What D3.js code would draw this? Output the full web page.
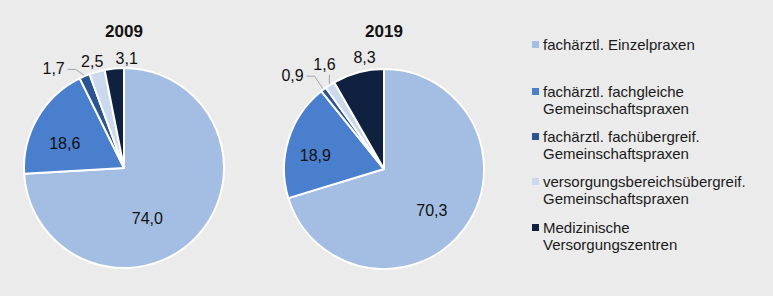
<!DOCTYPE html>
<html lang="de">
<head>
<meta charset="UTF-8">
<title>Praxisformen 2009 / 2019</title>
<script src="https://cdnjs.cloudflare.com/ajax/libs/d3/7.8.5/d3.min.js"></script>
<style>
  html, body { margin: 0; padding: 0; background: #ebebeb; }
  svg { display: block; font-family: "Liberation Sans", Arial, sans-serif; }
</style>
</head>
<body>
<div id="wrapper"></div>
<script>
// data
const categories = [
  ["fachärztl. Einzelpraxen"],
  ["fachärztl. fachgleiche", "Gemeinschaftspraxen"],
  ["fachärztl. fachübergreif.", "Gemeinschaftspraxen"],
  ["versorgungsbereichsübergreif.", "Gemeinschaftspraxen"],
  ["Medizinische", "Versorgungszentren"]
]
const years = ["2009", "2019"]
const values2009 = [74.0, 18.6, 1.7, 2.5, 3.1]
const values2019 = [70.3, 18.9, 0.9, 1.6, 8.3]

const colors = ["#a3bee2", "#4a7fce", "#2b5591", "#cad9ec", "#10213f"]

// label placement per slice: angle shift (deg), radius (px), leader line or not
const labelLayout = {
  "2009": [
    { da: 22, r: 56 }, { da: -8, r: 64 },
    { da: -12, r: 122, leader: true }, { da: -1, r: 111 }, { da: 7, r: 110 }
  ],
  "2019": [
    { da: 4, r: 63 }, { da: -6, r: 70 },
    { da: -7, r: 131, leader: true }, { da: 3, r: 120, leader: true }, { da: 5, r: 113 }
  ]
}

const dimensions = { width: 773, height: 296 }
const radius = 100
const centers = [{ x: 124, y: 168 }, { x: 384, y: 169 }]

const svg = d3.select('#wrapper')
  .append('svg')
    .attr('width', dimensions.width)
    .attr('height', dimensions.height)

svg.append('rect')
  .attr('width', dimensions.width)
  .attr('height', dimensions.height)
  .attr('fill', '#ebebeb')

const pie = d3.pie().sort(null).value(d => d)
const arc = d3.arc().innerRadius(0).outerRadius(radius)
const fmt = v => d3.format('.1f')(v).replace('.', ',')

const polar = (angle, r) => [Math.sin(angle) * r, -Math.cos(angle) * r]

;[values2009, values2019].forEach((values, i) => {
  const year = years[i]
  const g = svg.append('g')
    .attr('transform', `translate(${centers[i].x},${centers[i].y})`)

  g.append('text')
    .attr('x', 0)
    .attr('y', 31 - centers[i].y)
    .attr('dy', '0.35em')
    .attr('text-anchor', 'middle')
    .attr('font-size', 17)
    .attr('font-weight', 'bold')
    .attr('fill', '#111')
    .text(year)

  const arcs = pie(values)

  g.selectAll('path.slice')
    .data(arcs)
    .join('path')
      .attr('class', 'slice')
      .attr('d', arc)
      .attr('fill', (d, j) => colors[j])
      .attr('stroke', '#ffffff')
      .attr('stroke-width', 2)
      .attr('stroke-linejoin', 'round')

  arcs.forEach((d, j) => {
    const lay = labelLayout[year][j]
    const mid = (d.startAngle + d.endAngle) / 2
    const [lx, ly] = polar(mid + lay.da * Math.PI / 180, lay.r)

    if (lay.leader) {
      const [ex, ey] = polar(mid, radius + 1)
      let pts
      if (Math.abs(ex - lx) < 12) {
        pts = [[ex, ly + 10], [ex, ey]]
      } else {
        const sx = lx + 14
        pts = [[sx, ly + 1], [sx + 8, ly + 1], [ex, ey]]
      }
      g.append('path')
        .attr('d', d3.line()(pts))
        .attr('fill', 'none')
        .attr('stroke', '#9aa4ae')
        .attr('stroke-width', 1)
    }

    g.append('text')
      .attr('x', lx)
      .attr('y', ly)
      .attr('dy', '0.35em')
      .attr('text-anchor', 'middle')
      .attr('font-size', 16)
      .attr('fill', '#111')
      .text(fmt(d.data))
  })
})

// legend
const legendRows = [45, 92, 137, 182, 228]
const legend = svg.append('g').attr('transform', 'translate(532,0)')

categories.forEach((lines, j) => {
  const y = legendRows[j]
  legend.append('rect')
    .attr('x', 0)
    .attr('y', y - 4)
    .attr('width', 7)
    .attr('height', 7)
    .attr('fill', colors[j])
  const t = legend.append('text')
    .attr('x', 11)
    .attr('y', y)
    .attr('font-size', 15)
    .attr('fill', '#1a1a1a')
  lines.forEach((line, k) => {
    t.append('tspan')
      .attr('x', 11)
      .attr('dy', k === 0 ? '0.35em' : 17)
      .text(line)
  })
})
</script>
</body>
</html>
